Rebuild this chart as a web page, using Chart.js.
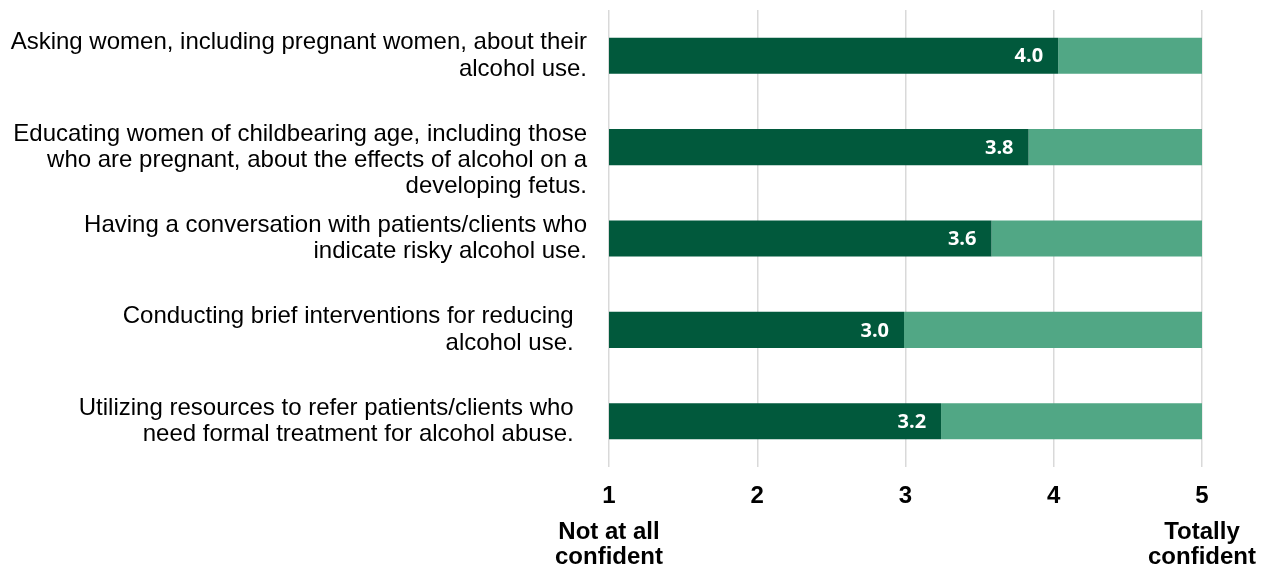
<!DOCTYPE html>
<html>
<head>
<meta charset="utf-8">
<script src="https://cdn.jsdelivr.net/npm/chart.js@4/dist/chart.umd.min.js"></script>
<style>
  html, body { margin: 0; padding: 0; background: #fff; }
  #wrap { width: 1273px; height: 574px; }
</style>
</head>
<body>
<div id="wrap"><canvas id="chart"></canvas></div>
<script>
// 설문 항목 (줄바꿈은 원본 그대로)
const categories = [
    ['Asking women, including pregnant women, about their', 'alcohol use.'],
    ['Educating women of childbearing age, including those', 'who are pregnant, about the effects of alcohol on a', 'developing fetus.'],
    ['Having a conversation with patients/clients who', 'indicate risky alcohol use.'],
    ['Conducting brief interventions for reducing', 'alcohol use.'],
    ['Utilizing resources to refer patients/clients who', 'need formal treatment for alcohol abuse.']
];
// 평균 자신감 점수 (1~5)
const scores = [4.03, 3.83, 3.58, 2.99, 3.24];
const scaleMin = 1;
const scaleMax = 5;
const tickValues = [1, 2, 3, 4, 5];
const endLabels = {
    1: ['Not at all', 'confident'],
    5: ['Totally', 'confident']
};

const darkGreen = '#01593c';
const lightGreen = '#51a785';
const fontFamily = '"Liberation Sans", Arial, sans-serif';

// 축 라벨 때문에 생기는 여백 제거 (차트 영역을 원본과 맞추기 위함)
function noLabelPadding(scale) {
    scale.paddingTop = 0;
    scale.paddingBottom = 0;
    scale.paddingLeft = 0;
    scale.paddingRight = 0;
}

// 막대 끝에 점수 표시
const valueLabels = {
    id: 'valueLabels',
    afterDatasetsDraw(chart) {
        const ctx = chart.ctx;
        const meta = chart.getDatasetMeta(0);
        ctx.save();
        ctx.fillStyle = '#ffffff';
        ctx.font = 'bold 20px "Open Sans", sans-serif';
        ctx.textAlign = 'right';
        ctx.textBaseline = 'middle';
        meta.data.forEach((bar, i) => {
            ctx.fillText(scores[i].toFixed(1), bar.x - 15, bar.y + 1);
        });
        ctx.restore();
    }
};

new Chart(document.getElementById('chart'), {
    type: 'bar',
    data: {
        labels: categories,
        datasets: [{
            data: scores.map(v => [scaleMin, v]),
            backgroundColor: darkGreen,
            grouped: false,
            order: 0
        }, {
            data: scores.map(v => [v, scaleMax]),
            backgroundColor: lightGreen,
            grouped: false,
            order: 1
        }]
    },
    options: {
        indexAxis: 'y',
        responsive: true,
        maintainAspectRatio: false,
        animation: false,
        barPercentage: 0.395,
        categoryPercentage: 1,
        layout: { padding: { left: 0, top: 10, right: 71, bottom: 0 } },
        plugins: {
            legend: { display: false },
            tooltip: { enabled: false }
        },
        scales: {
            y: {
                grid: { display: false, drawTicks: false },
                border: { display: false },
                ticks: {
                    color: '#000',
                    padding: 22,
                    autoSkip: false,
                    font: { family: fontFamily, size: 24, lineHeight: 1.1 },
                    callback: function(value, index) {
                        const lines = categories[index].slice();
                        // 아래 두 항목은 원본에서 약간 왼쪽으로 들여져 있음
                        if (index >= 3) {
                            lines[0] += '\u00a0\u00a0';
                            lines[lines.length - 1] += '\u00a0\u00a0';
                        }
                        // 두 번째 항목은 원본에서 막대보다 조금 아래에 있음
                        if (index === 1) lines.unshift('');
                        return lines;
                    }
                },
                afterFit: function(scale) {
                    scale.width = 609;
                    noLabelPadding(scale);
                }
            },
            x: {
                type: 'linear',
                min: scaleMin,
                max: scaleMax,
                weight: 0,
                afterBuildTicks: function(scale) { scale.ticks = tickValues.map(v => ({ value: v })); },
                grid: { color: '#d9d9d9', lineWidth: 1.5, drawTicks: false },
                border: { display: false },
                ticks: {
                    color: '#000',
                    padding: 15,
                    font: { family: fontFamily, size: 24, weight: 'bold' }
                },
                afterFit: function(scale) {
                    scale.height = 44;
                    noLabelPadding(scale);
                }
            },
            x2: {
                type: 'linear',
                position: 'bottom',
                min: scaleMin,
                max: scaleMax,
                weight: 1,
                afterBuildTicks: function(scale) { scale.ticks = tickValues.map(v => ({ value: v })); },
                grid: { display: false, drawTicks: false },
                border: { display: false },
                ticks: {
                    color: '#000',
                    padding: 9,
                    font: { family: fontFamily, size: 24, weight: 'bold', lineHeight: 25 / 24 },
                    callback: function(value) { return endLabels[value] || ''; }
                },
                afterFit: function(scale) {
                    scale.height = 63;
                    noLabelPadding(scale);
                }
            }
        }
    },
    plugins: [valueLabels]
});
</script>
</body>
</html>
